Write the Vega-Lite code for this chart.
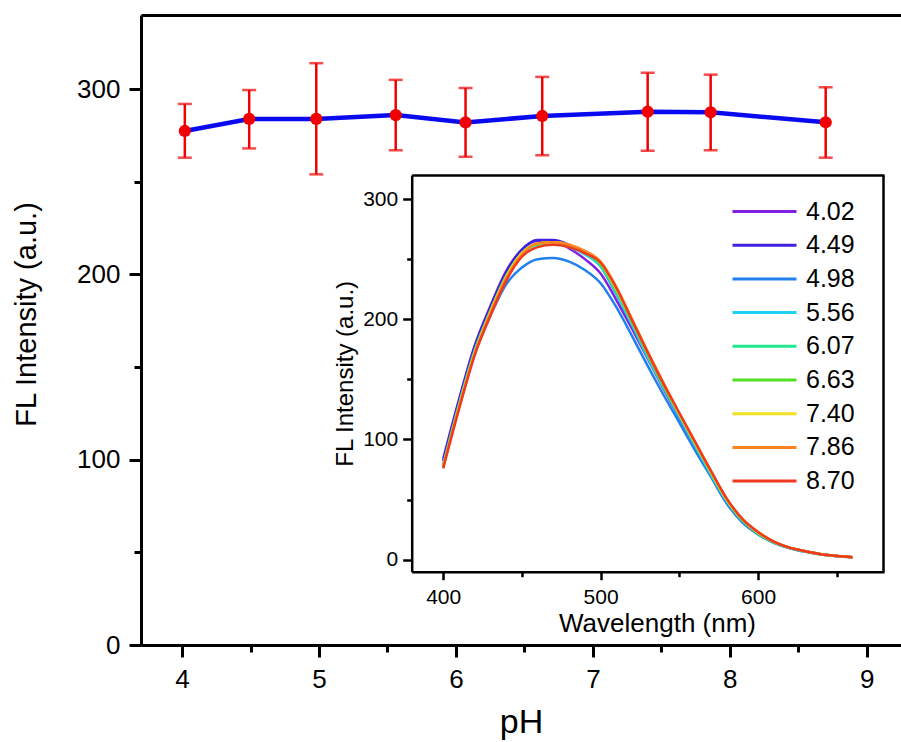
{
  "$schema": "https://vega.github.io/schema/vega-lite/v6.json",
  "width": 760,
  "height": 630,
  "autosize": "none",
  "padding": {"left": 141, "top": 15, "right": 0, "bottom": 97},
  "config": {
    "view": {"stroke": null},
    "font": "Liberation Sans",
    "axis": {"domainColor": "black", "tickColor": "black", "labelColor": "black", "titleColor": "black", "grid": false, "labelFont": "Liberation Sans", "titleFont": "Liberation Sans", "titleFontWeight": "normal", "labelFlush": false, "labelOverlap": false},
    "legend": {"labelFont": "Liberation Sans", "labelColor": "black"}
  },
  "datasets": {
    "main": [
      {"ph": 4.02, "fl": 277.4, "lo": 263, "hi": 292},
      {"ph": 4.49, "fl": 283.9, "lo": 268, "hi": 299.5},
      {"ph": 4.98, "fl": 283.9, "lo": 254, "hi": 314},
      {"ph": 5.56, "fl": 286, "lo": 267, "hi": 305},
      {"ph": 6.07, "fl": 282, "lo": 263.5, "hi": 300.6},
      {"ph": 6.63, "fl": 285.5, "lo": 264.3, "hi": 306.6},
      {"ph": 7.40, "fl": 287.8, "lo": 266.8, "hi": 308.8},
      {"ph": 7.86, "fl": 287.5, "lo": 267, "hi": 307.8},
      {"ph": 8.70, "fl": 282.1, "lo": 263, "hi": 301}
    ],
    "spec": [
      {"s":"4.02","wl":400,"i":84},{"s":"4.02","wl":410,"i":133},{"s":"4.02","wl":420,"i":178},{"s":"4.02","wl":430,"i":211},{"s":"4.02","wl":440,"i":240},{"s":"4.02","wl":450,"i":258},{"s":"4.02","wl":460,"i":265},{"s":"4.02","wl":470,"i":265},{"s":"4.02","wl":480,"i":259},{"s":"4.02","wl":490,"i":250},{"s":"4.02","wl":500,"i":238},{"s":"4.02","wl":510,"i":216},{"s":"4.02","wl":520,"i":192},{"s":"4.02","wl":530,"i":167},{"s":"4.02","wl":540,"i":142},{"s":"4.02","wl":550,"i":118},{"s":"4.02","wl":560,"i":95},{"s":"4.02","wl":570,"i":72},{"s":"4.02","wl":580,"i":50},{"s":"4.02","wl":590,"i":33},{"s":"4.02","wl":600,"i":22},{"s":"4.02","wl":610,"i":14.5},{"s":"4.02","wl":620,"i":10},{"s":"4.02","wl":630,"i":7},{"s":"4.02","wl":640,"i":4.5},{"s":"4.02","wl":650,"i":3},{"s":"4.02","wl":660,"i":2},
      {"s":"4.49","wl":400,"i":82},{"s":"4.49","wl":410,"i":132},{"s":"4.49","wl":420,"i":177},{"s":"4.49","wl":430,"i":210},{"s":"4.49","wl":440,"i":239},{"s":"4.49","wl":450,"i":258},{"s":"4.49","wl":460,"i":266},{"s":"4.49","wl":470,"i":266},{"s":"4.49","wl":480,"i":262},{"s":"4.49","wl":490,"i":255},{"s":"4.49","wl":500,"i":244},{"s":"4.49","wl":510,"i":221},{"s":"4.49","wl":520,"i":196},{"s":"4.49","wl":530,"i":170},{"s":"4.49","wl":540,"i":144},{"s":"4.49","wl":550,"i":120},{"s":"4.49","wl":560,"i":96},{"s":"4.49","wl":570,"i":73},{"s":"4.49","wl":580,"i":50},{"s":"4.49","wl":590,"i":33},{"s":"4.49","wl":600,"i":22},{"s":"4.49","wl":610,"i":14.5},{"s":"4.49","wl":620,"i":10},{"s":"4.49","wl":630,"i":7},{"s":"4.49","wl":640,"i":4.5},{"s":"4.49","wl":650,"i":3},{"s":"4.49","wl":660,"i":2},
      {"s":"4.98","wl":400,"i":78},{"s":"4.98","wl":410,"i":127},{"s":"4.98","wl":420,"i":171},{"s":"4.98","wl":430,"i":203},{"s":"4.98","wl":440,"i":229},{"s":"4.98","wl":450,"i":243},{"s":"4.98","wl":460,"i":250},{"s":"4.98","wl":470,"i":251},{"s":"4.98","wl":480,"i":248},{"s":"4.98","wl":490,"i":241},{"s":"4.98","wl":500,"i":230},{"s":"4.98","wl":510,"i":210},{"s":"4.98","wl":520,"i":186},{"s":"4.98","wl":530,"i":161},{"s":"4.98","wl":540,"i":137},{"s":"4.98","wl":550,"i":114},{"s":"4.98","wl":560,"i":91},{"s":"4.98","wl":570,"i":69},{"s":"4.98","wl":580,"i":47},{"s":"4.98","wl":590,"i":31},{"s":"4.98","wl":600,"i":21},{"s":"4.98","wl":610,"i":14},{"s":"4.98","wl":620,"i":9.5},{"s":"4.98","wl":630,"i":6.5},{"s":"4.98","wl":640,"i":4.3},{"s":"4.98","wl":650,"i":2.9},{"s":"4.98","wl":660,"i":2},
      {"s":"5.56","wl":400,"i":79},{"s":"5.56","wl":410,"i":129},{"s":"5.56","wl":420,"i":174},{"s":"5.56","wl":430,"i":207},{"s":"5.56","wl":440,"i":236},{"s":"5.56","wl":450,"i":255},{"s":"5.56","wl":460,"i":263},{"s":"5.56","wl":470,"i":263},{"s":"5.56","wl":480,"i":260},{"s":"5.56","wl":490,"i":254},{"s":"5.56","wl":500,"i":244},{"s":"5.56","wl":510,"i":221},{"s":"5.56","wl":520,"i":195},{"s":"5.56","wl":530,"i":168},{"s":"5.56","wl":540,"i":143},{"s":"5.56","wl":550,"i":119},{"s":"5.56","wl":560,"i":95},{"s":"5.56","wl":570,"i":71},{"s":"5.56","wl":580,"i":49},{"s":"5.56","wl":590,"i":32.5},{"s":"5.56","wl":600,"i":22},{"s":"5.56","wl":610,"i":14.5},{"s":"5.56","wl":620,"i":10},{"s":"5.56","wl":630,"i":7},{"s":"5.56","wl":640,"i":4.5},{"s":"5.56","wl":650,"i":3},{"s":"5.56","wl":660,"i":2},
      {"s":"6.07","wl":400,"i":78},{"s":"6.07","wl":410,"i":128},{"s":"6.07","wl":420,"i":173},{"s":"6.07","wl":430,"i":206},{"s":"6.07","wl":440,"i":235},{"s":"6.07","wl":450,"i":254},{"s":"6.07","wl":460,"i":262},{"s":"6.07","wl":470,"i":263},{"s":"6.07","wl":480,"i":261},{"s":"6.07","wl":490,"i":255},{"s":"6.07","wl":500,"i":245},{"s":"6.07","wl":510,"i":223},{"s":"6.07","wl":520,"i":197},{"s":"6.07","wl":530,"i":170},{"s":"6.07","wl":540,"i":144},{"s":"6.07","wl":550,"i":120},{"s":"6.07","wl":560,"i":96},{"s":"6.07","wl":570,"i":72},{"s":"6.07","wl":580,"i":49.5},{"s":"6.07","wl":590,"i":33},{"s":"6.07","wl":600,"i":22},{"s":"6.07","wl":610,"i":14.5},{"s":"6.07","wl":620,"i":10},{"s":"6.07","wl":630,"i":7},{"s":"6.07","wl":640,"i":4.5},{"s":"6.07","wl":650,"i":3},{"s":"6.07","wl":660,"i":2},
      {"s":"6.63","wl":400,"i":78},{"s":"6.63","wl":410,"i":128},{"s":"6.63","wl":420,"i":173},{"s":"6.63","wl":430,"i":207},{"s":"6.63","wl":440,"i":236},{"s":"6.63","wl":450,"i":255},{"s":"6.63","wl":460,"i":263},{"s":"6.63","wl":470,"i":264},{"s":"6.63","wl":480,"i":261},{"s":"6.63","wl":490,"i":256},{"s":"6.63","wl":500,"i":246},{"s":"6.63","wl":510,"i":224},{"s":"6.63","wl":520,"i":198},{"s":"6.63","wl":530,"i":171},{"s":"6.63","wl":540,"i":145},{"s":"6.63","wl":550,"i":121},{"s":"6.63","wl":560,"i":97},{"s":"6.63","wl":570,"i":73},{"s":"6.63","wl":580,"i":50},{"s":"6.63","wl":590,"i":33},{"s":"6.63","wl":600,"i":22},{"s":"6.63","wl":610,"i":14.8},{"s":"6.63","wl":620,"i":10},{"s":"6.63","wl":630,"i":7},{"s":"6.63","wl":640,"i":4.5},{"s":"6.63","wl":650,"i":3},{"s":"6.63","wl":660,"i":2},
      {"s":"7.40","wl":400,"i":77},{"s":"7.40","wl":410,"i":127},{"s":"7.40","wl":420,"i":172},{"s":"7.40","wl":430,"i":206},{"s":"7.40","wl":440,"i":235},{"s":"7.40","wl":450,"i":255},{"s":"7.40","wl":460,"i":263},{"s":"7.40","wl":470,"i":264},{"s":"7.40","wl":480,"i":262},{"s":"7.40","wl":490,"i":256},{"s":"7.40","wl":500,"i":247},{"s":"7.40","wl":510,"i":225},{"s":"7.40","wl":520,"i":199},{"s":"7.40","wl":530,"i":172},{"s":"7.40","wl":540,"i":146},{"s":"7.40","wl":550,"i":121},{"s":"7.40","wl":560,"i":97},{"s":"7.40","wl":570,"i":73},{"s":"7.40","wl":580,"i":50},{"s":"7.40","wl":590,"i":33.5},{"s":"7.40","wl":600,"i":22.5},{"s":"7.40","wl":610,"i":15},{"s":"7.40","wl":620,"i":10},{"s":"7.40","wl":630,"i":7},{"s":"7.40","wl":640,"i":4.5},{"s":"7.40","wl":650,"i":3},{"s":"7.40","wl":660,"i":2},
      {"s":"7.86","wl":400,"i":77},{"s":"7.86","wl":410,"i":126},{"s":"7.86","wl":420,"i":171},{"s":"7.86","wl":430,"i":205},{"s":"7.86","wl":440,"i":234},{"s":"7.86","wl":450,"i":254},{"s":"7.86","wl":460,"i":263},{"s":"7.86","wl":470,"i":264},{"s":"7.86","wl":480,"i":262},{"s":"7.86","wl":490,"i":257},{"s":"7.86","wl":500,"i":248},{"s":"7.86","wl":510,"i":227},{"s":"7.86","wl":520,"i":200},{"s":"7.86","wl":530,"i":173},{"s":"7.86","wl":540,"i":147},{"s":"7.86","wl":550,"i":122},{"s":"7.86","wl":560,"i":98},{"s":"7.86","wl":570,"i":74},{"s":"7.86","wl":580,"i":51},{"s":"7.86","wl":590,"i":34},{"s":"7.86","wl":600,"i":23},{"s":"7.86","wl":610,"i":15},{"s":"7.86","wl":620,"i":10},{"s":"7.86","wl":630,"i":7},{"s":"7.86","wl":640,"i":4.5},{"s":"7.86","wl":650,"i":3},{"s":"7.86","wl":660,"i":2},
      {"s":"8.70","wl":400,"i":76},{"s":"8.70","wl":410,"i":125},{"s":"8.70","wl":420,"i":170},{"s":"8.70","wl":430,"i":203},{"s":"8.70","wl":440,"i":232},{"s":"8.70","wl":450,"i":252},{"s":"8.70","wl":460,"i":260},{"s":"8.70","wl":470,"i":262},{"s":"8.70","wl":480,"i":260},{"s":"8.70","wl":490,"i":255},{"s":"8.70","wl":500,"i":247},{"s":"8.70","wl":510,"i":226},{"s":"8.70","wl":520,"i":199},{"s":"8.70","wl":530,"i":172},{"s":"8.70","wl":540,"i":146},{"s":"8.70","wl":550,"i":122},{"s":"8.70","wl":560,"i":98},{"s":"8.70","wl":570,"i":74},{"s":"8.70","wl":580,"i":51},{"s":"8.70","wl":590,"i":34},{"s":"8.70","wl":600,"i":23},{"s":"8.70","wl":610,"i":15},{"s":"8.70","wl":620,"i":10},{"s":"8.70","wl":630,"i":7},{"s":"8.70","wl":640,"i":4.5},{"s":"8.70","wl":650,"i":3},{"s":"8.70","wl":660,"i":2}
    ]
  },
  "layer": [
    {
      "data": {"name": "main"},
      "mark": {"type": "line", "color": "#0a0af0", "strokeWidth": 4.5},
      "encoding": {
        "x": {"field": "ph", "type": "quantitative", "scale": {"domain": [3.7, 9.25], "nice": false, "zero": false},
          "axis": {"orient": "bottom", "values": [4, 5, 6, 7, 8, 9], "tickSize": 12, "tickWidth": 3, "domainWidth": 3, "labelFontSize": 26, "labelPadding": 9, "title": "pH", "titleFontSize": 34, "titleBaseline": "alphabetic", "titleY": 87}},
        "y": {"field": "fl", "type": "quantitative", "scale": {"domain": [0, 340], "nice": false, "zero": false},
          "axis": {"orient": "left", "values": [0, 100, 200, 300], "tickSize": 12, "tickWidth": 3, "domainWidth": 3, "labelFontSize": 26, "labelPadding": 9, "title": "FL Intensity (a.u.)", "titleFontSize": 29, "titleBaseline": "alphabetic", "titleX": -106, "titleY": 299}}
      }
    },
    {
      "data": {"name": "main"},
      "mark": {"type": "rule", "color": "#f00000", "strokeWidth": 2.5},
      "encoding": {
        "x": {"field": "ph", "type": "quantitative", "scale": {"domain": [3.7, 9.25], "nice": false, "zero": false}, "axis": null},
        "y": {"field": "lo", "type": "quantitative", "scale": {"domain": [0, 340], "nice": false, "zero": false}, "axis": null},
        "y2": {"field": "hi"}
      }
    },
    {
      "data": {"name": "main"},
      "mark": {"type": "tick", "orient": "horizontal", "color": "#f00000", "size": 14, "thickness": 2.5},
      "encoding": {
        "x": {"field": "ph", "type": "quantitative", "scale": {"domain": [3.7, 9.25], "nice": false, "zero": false}, "axis": null},
        "y": {"field": "lo", "type": "quantitative", "scale": {"domain": [0, 340], "nice": false, "zero": false}, "axis": null}
      }
    },
    {
      "data": {"name": "main"},
      "mark": {"type": "tick", "orient": "horizontal", "color": "#f00000", "size": 14, "thickness": 2.5},
      "encoding": {
        "x": {"field": "ph", "type": "quantitative", "scale": {"domain": [3.7, 9.25], "nice": false, "zero": false}, "axis": null},
        "y": {"field": "hi", "type": "quantitative", "scale": {"domain": [0, 340], "nice": false, "zero": false}, "axis": null}
      }
    },
    {
      "data": {"name": "main"},
      "mark": {"type": "circle", "color": "#f00000", "size": 150, "opacity": 1},
      "encoding": {
        "x": {"field": "ph", "type": "quantitative", "scale": {"domain": [3.7, 9.25], "nice": false, "zero": false}, "axis": null},
        "y": {"field": "fl", "type": "quantitative", "scale": {"domain": [0, 340], "nice": false, "zero": false}, "axis": null}
      }
    },
    {
      "data": {"name": "main"},
      "mark": {"type": "point", "opacity": 0},
      "encoding": {
        "x": {"field": "ph", "type": "quantitative", "scale": {"domain": [3.7, 9.25], "nice": false, "zero": false},
          "axis": {"orient": "bottom", "values": [4.5, 5.5, 6.5, 7.5, 8.5], "tickSize": 7, "tickWidth": 3, "labels": false, "domain": false, "title": null}},
        "y": {"field": "fl", "type": "quantitative", "scale": {"domain": [0, 340], "nice": false, "zero": false},
          "axis": {"orient": "left", "values": [50, 150, 250], "tickSize": 7, "tickWidth": 3, "labels": false, "domain": false, "title": null}}
      }
    },
    {
      "data": {"name": "main"},
      "mark": {"type": "point", "opacity": 0},
      "encoding": {
        "x": {"field": "ph", "type": "quantitative", "scale": {"domain": [3.7, 9.25], "nice": false, "zero": false},
          "axis": {"orient": "top", "ticks": false, "labels": false, "domainWidth": 3, "title": null}}
      }
    },
    {
      "data": {"name": "spec"},
      "mark": {"type": "line", "strokeWidth": 2.5, "interpolate": "monotone"},
      "encoding": {
        "x": {"field": "wl", "type": "quantitative", "scale": {"domain": [380, 680], "range": [270.7, 743], "nice": false, "zero": false},
          "axis": {"orient": "bottom", "offset": -73.3, "values": [400, 500, 600], "tickSize": 8, "tickWidth": 2.5, "domainWidth": 2.5, "labelFontSize": 21, "labelPadding": 7, "title": "Wavelength (nm)", "titleFontSize": 26, "titleBaseline": "alphabetic", "titleX": 516, "titleY": 60}},
        "y": {"field": "i", "type": "quantitative", "scale": {"domain": [-10, 320], "range": [556.7, 160], "nice": false, "zero": false},
          "axis": {"orient": "left", "offset": -270.7, "values": [0, 100, 200, 300], "tickSize": 9, "tickWidth": 2.5, "domainWidth": 2.5, "labelFontSize": 21, "labelPadding": 5, "title": "FL Intensity (a.u.)", "titleFontSize": 24, "titlePadding": 5}},
        "color": {"field": "s", "type": "nominal",
          "scale": {"domain": ["4.02", "4.49", "4.98", "5.56", "6.07", "6.63", "7.40", "7.86", "8.70"], "range": ["#8020e6", "#4020e0", "#2080f0", "#20d0f0", "#20e890", "#50e020", "#f0e020", "#ff8420", "#f03a20"]},
          "legend": {"orient": "none", "legendX": 611, "legendY": 184, "title": null, "symbolType": "M-4,0H4", "symbolSize": 256, "symbolStrokeWidth": 3, "labelFontSize": 25, "rowPadding": 7.7, "labelOffset": 29, "padding": 0}}
      }
    },
    {
      "data": {"name": "spec"},
      "mark": {"type": "point", "opacity": 0},
      "encoding": {
        "x": {"field": "wl", "type": "quantitative", "scale": {"domain": [380, 680], "range": [270.7, 743], "nice": false, "zero": false},
          "axis": {"orient": "bottom", "offset": -73.3, "values": [450, 550, 650], "tickSize": 5, "tickWidth": 2.5, "labels": false, "domain": false, "title": null}},
        "y": {"field": "i", "type": "quantitative", "scale": {"domain": [-10, 320], "range": [556.7, 160], "nice": false, "zero": false},
          "axis": {"orient": "left", "offset": -270.7, "values": [50, 150, 250], "tickSize": 5, "tickWidth": 2.5, "labels": false, "domain": false, "title": null}}
      }
    },
    {
      "data": {"name": "spec"},
      "mark": {"type": "point", "opacity": 0},
      "encoding": {
        "x": {"field": "wl", "type": "quantitative", "scale": {"domain": [380, 680], "range": [270.7, 743], "nice": false, "zero": false},
          "axis": {"orient": "top", "offset": -160, "ticks": false, "labels": false, "domainWidth": 2.5, "title": null}},
        "y": {"field": "i", "type": "quantitative", "scale": {"domain": [-10, 320], "range": [556.7, 160], "nice": false, "zero": false},
          "axis": {"orient": "right", "offset": -18, "ticks": false, "labels": false, "domainWidth": 2.5, "title": null}}
      }
    }
  ],
  "resolve": {"scale": {"x": "independent", "y": "independent", "color": "independent"}}
}
